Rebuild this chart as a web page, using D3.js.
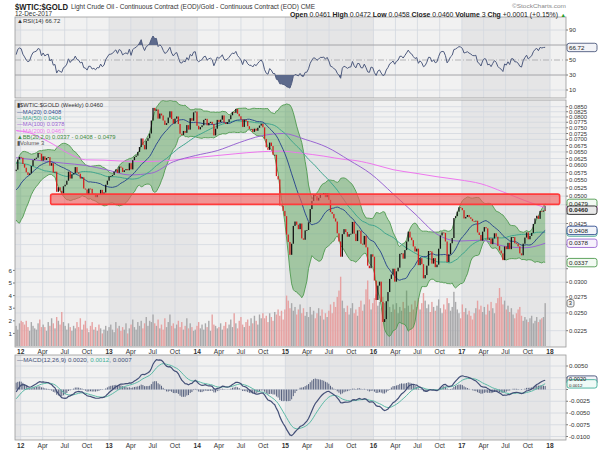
<!DOCTYPE html>
<html><head><meta charset="utf-8">
<script src="https://cdn.jsdelivr.net/npm/d3@7"></script>
<style>body{margin:0;background:#fff}svg{display:block}text{font-family:"Liberation Sans",Arial,sans-serif}</style>
</head><body><svg id="c" width="600" height="450"></svg>
<script>
// ---------------- DATA ----------------
const firstBar = "2011-12-13";           // first weekly bar shown
// weeks before the visible window, only used to seed MA20/MA50/BB/RSI/MACD
const warmupCloses = [.0643,.0672,.0663,.0666,.0660,.0629,.0621,.0694,.0731,.0712,.0713,.0738,.0755,.0765,.0738,.0747,.0732,.0652,.0668,.0659,.0655,.0650,.0649,.0604,.0608,.0640,.0624,.0610,.0624,.0588,.0524,.0490,.0444,.0477,.0461,.0470,.0485,.0482,.0488,.0507,.0516,.0532,.0534,.0537,.0554,.0565,.0574,.0578,.0580];
const closes = [
.0585,.0621,.0631,.0628,.0605,.0592,.0576,.0567,.0572,.0598,.0619,.0624,.0628,.0646,.0643,.0617,
.0633,.0620,.0627,.0630,.0599,.0608,.0575,.0578,.0513,.0527,.0516,.0508,.0530,
.0535,.0548,.0578,.0555,.0569,.0573,.0594,.0575,.0571,.0555,.0559,.0523,.0520,
.0505,.0523,.0522,.0504,.0507,.0497,.0506,.0504,.0519,.0505,.0511,.0535,.0548,
.0562,.0563,.0567,.0578,.0586,.0574,.0596,.0592,.0577,.0583,.0587,.0583,.0608,
.0586,.0619,.0631,.0636,.0650,.0669,.0704,.0677,.0660,.0694,.0705,.0725,.0783,
.0844,.0830,.0836,.0792,.0816,.0807,.0783,.0763,.0771,.0797,.0827,.0790,.0769,
.0792,.0802,.0767,.0724,.0719,.0736,.0728,.0762,.0742,.0794,.0782,.0822,.0826,
.0759,.0743,.0753,.0761,.0786,.0791,.0761,.0772,.0777,.0767,.0717,.0746,.0786,
.0776,.0787,.0807,.0774,.0767,.0776,.0789,.0808,.0824,.0820,.0839,.0815,.0803,
.0788,.0754,.0787,.0781,.0757,.0745,.0745,.0732,.0746,.0737,.0750,.0760,.0768,
.0752,.0702,.0668,.0658,.0687,.0673,.0639,.0639,.0563,.0552,.0473,.0472,.0458,
.0444,.0398,.0381,.0353,.0377,.0419,.0430,.0422,.0411,.0425,.0389,.0386,.0408,
.0409,.0428,.0463,.0486,.0504,.0500,.0487,.0495,.0507,.0506,.0509,.0497,.0508,
.0489,.0455,.0450,.0438,.0430,.0401,.0382,.0349,.0399,.0411,.0404,.0393,.0399,
.0400,.0429,.0400,.0383,.0408,.0407,.0377,.0375,.0395,.0369,.0331,.0326,.0354,
.0349,.0303,.0270,.0294,.0301,.0267,.0237,.0241,.0268,.0283,.0306,.0314,.0325,
.0301,.0320,.0327,.0355,.0356,.0345,.0363,.0382,.0405,.0391,.0385,.0371,.0360,
.0366,.0332,.0346,.0334,.0307,.0313,.0331,.0361,.0360,.0335,.0346,.0328,.0333,
.0366,.0396,.0403,.0402,.0382,.0338,.0354,.0378,.0390,.0439,.0444,.0456,.0468,
.0466,.0460,.0438,.0442,.0447,.0441,.0437,.0431,.0430,.0432,.0403,.0397,.0384,
.0405,.0416,.0413,.0386,.0389,.0376,.0389,.0401,.0393,.0372,.0362,.0356,.0342,
.0371,.0365,.0379,.0365,.0392,.0392,.0378,.0377,.0371,.0356,.0352,.0377,.0391,
.0403,.0387,.0395,.0402,.0424,.0438,.0445,.0437,.0458,.0456,.0459,.0460];
const volumes = [
1.6,1.3,1.8,2.0,1.9,1.7,2.0,1.5,1.2,1.9,1.6,1.4,1.3,1.8,2.1,1.5,
1.7,1.5,1.2,1.9,1.6,2.2,1.8,1.4,2.3,2.0,1.7,2.7,1.9,
1.6,1.3,1.8,1.5,1.2,1.6,1.4,1.9,1.5,2.2,1.3,1.7,2.0,
1.4,1.1,1.6,1.9,1.3,1.5,1.2,1.7,1.4,1.0,1.3,1.6,1.2,
1.5,1.7,1.3,1.1,1.9,1.4,1.6,1.2,1.5,1.3,1.8,1.0,1.4,
1.7,2.1,1.5,1.3,1.9,1.6,2.0,1.4,1.8,2.3,1.6,2.0,1.9,
2.5,1.8,1.6,2.1,1.4,1.7,1.3,2.2,1.5,1.9,2.5,1.6,1.8,
1.4,1.7,2.0,1.5,1.9,1.3,1.6,2.2,1.4,1.8,1.5,1.2,1.3,
1.6,1.9,1.4,1.7,1.3,1.8,1.5,2.0,1.2,2.5,1.7,1.6,1.4,
1.5,1.8,1.3,1.6,1.9,1.4,1.7,2.1,1.5,2.6,1.8,1.4,2.0,
2.3,1.7,1.5,1.9,2.1,1.6,2.2,1.8,2.4,2.0,1.7,2.5,2.2,
2.6,2.2,2.4,1.9,2.6,2.3,2.0,2.7,2.5,2.9,2.4,2.8,2.1,
2.9,4.0,3.6,3.0,3.4,2.8,3.1,2.5,2.9,3.3,2.6,3.0,2.4,
2.7,2.3,3.1,2.5,2.8,2.2,2.6,3.0,2.4,2.9,2.1,2.6,2.3,
2.8,3.3,2.6,3.5,3.1,3.9,4.4,5.5,3.6,3.0,2.7,3.2,2.5,
3.0,3.4,2.6,2.9,2.4,3.1,3.6,2.8,3.3,4.5,5.2,3.7,2.9,
3.4,3.8,4.1,3.2,3.5,3.0,3.9,3.4,2.8,3.6,3.1,2.7,3.3,
2.9,3.4,2.6,3.1,2.8,3.5,3.0,4.4,3.2,2.7,3.3,2.9,3.6,
3.1,3.8,2.9,3.4,4.2,3.6,3.0,3.3,2.7,3.5,3.1,2.8,3.2,
3.7,3.0,2.6,3.3,2.9,3.8,3.4,2.8,3.1,4.3,3.5,2.9,2.6,
2.2,3.3,2.7,3.0,2.5,2.8,2.4,2.1,2.6,3.0,3.6,2.9,3.2,
2.7,3.1,2.5,3.3,2.8,3.5,3.0,2.6,3.4,3.8,4.6,3.9,3.3,
3.6,2.9,3.2,2.7,3.0,2.5,2.2,2.6,2.9,3.1,2.4,2.0,2.3,
2.1,1.9,2.2,2.4,1.8,2.0,2.3,1.9,2.1,2.2,2.3,3.4];
const ma100Weeks = [0,15,28,41,54,67,80,93,106,119,132,145,158,171,184,197,210,223,236,249,262,275,288,301,313];
const ma100Vals  = [.0628,.0617,.0608,.0600,.0584,.0567,.0573,.0613,.0636,.0655,.0687,.0715,.0725,.0700,.0668,.0619,.0570,.0507,.0450,.0399,.0383,.0385,.0372,.0368,.0378];
const ma200Weeks = [0,8,16,22,28,35,41,52,65,78,91,104,117,130,143,156,169,182,195,199,210,223,236,249,262,275,288,301,313];
const ma200Vals  = [.0738,.0728,.0702,.0680,.0655,.0632,.0620,.0619,.0615,.0614,.0618,.0627,.0635,.0643,.0650,.0653,.0645,.0634,.0621,.0619,.0606,.0585,.0573,.0561,.0551,.0538,.0513,.0487,.0467];
const lastOpen = 0.0461, lastHigh = 0.0472, lastLow = 0.0458, lastClose = 0.0460;
const lastVolume = 3, lastChg = "+0.0001", lastPct = "+0.15%";
const legendMA = [["MA(20)",0.0408],["MA(50)",0.0404],["MA(100)",0.0378],["MA(200)",0.0467]];
const legendBB = [0.0337,0.0408,0.0479];
const legendRSI = 66.72;
const legendMACD = [0.0020,0.0012,0.0007];
const zoneDates = ["2012-05-04","2018-02-10"], zonePrices = [0.0476,0.0506];
const priceTicks = d3.range(0,26).map(k=>+(0.0225+k*0.0025).toFixed(4));
const rsiTicks = [10,30,50,70,90];
const macdTicks = [0.005,0.0025,0,-0.0025,-0.005,-0.0075,-0.01];
const volTicks = [1,2,3,4,5,6];
const yearLabels = ["12","13","14","15","16","17","18"];
const monthLabels = ["Apr","Jul","Oct"];

// ---------------- LAYOUT ----------------
const svg = d3.select("#c");
const L = 15, R = 566;
const P = {rsi:[17,98], main:[100,347], macd:[355,440]};
const x = d3.scaleTime().domain([new Date(2012,0,1), new Date(2018,0,1)]).range([20.7,550]);
const yP = d3.scaleLog().domain([0.0225,0.085]).range([330.7,106.7]);
const yR = d3.scaleLinear().domain([10,90]).range([90,30]);
const yM = d3.scaleLinear().domain([-0.01,0.005]).range([436.5,366]);
const yV = d3.scaleLinear().domain([0,6]).range([346,270.4]);
const parse = s=>{const [a,b,c]=s.split("-").map(Number);return new Date(a,b-1,c);};
const t0 = parse(firstBar);
const dates = closes.map((_,i)=>d3.timeDay.offset(t0,7*i));

// quarter ticks
const qTicks=[];
for(let yr=2012;yr<=2018;yr++){ qTicks.push({d:new Date(yr,0,1),t:yearLabels[yr-2012],b:true});
  if(yr<2018) monthLabels.forEach((m,k)=>qTicks.push({d:new Date(yr,3*(k+1),1),t:m,b:false})); }

// panels
const defs = svg.append("defs");
Object.entries(P).forEach(([k,[t,b]])=>{
  defs.append("clipPath").attr("id","clip-"+k).append("rect").attr("x",L).attr("y",t).attr("width",R-L).attr("height",b-t);
  const g = svg.append("g");
  g.append("rect").attr("x",L).attr("y",t).attr("width",R-L).attr("height",b-t).attr("fill","#f1f1f1");
  [2011,2013,2015,2017].forEach(yr=>{
    const a=Math.max(L,x(new Date(yr,0,1))), c=Math.min(R,x(new Date(yr+1,0,1)));
    if(c>a) g.append("rect").attr("x",a).attr("y",t).attr("width",c-a).attr("height",b-t).attr("fill","#e5e5e6");
  });
  qTicks.forEach(q=>{const xx=x(q.d); if(xx>L&&xx<R) g.append("line").attr("x1",xx).attr("x2",xx).attr("y1",t).attr("y2",b).attr("stroke","#d3d8e0").attr("stroke-width",0.8);});
});

// ---------------- INDICATORS ----------------
const all = warmupCloses.concat(closes), W = warmupCloses.length;
const win = (n,i)=>all.slice(i+W-n+1,i+W+1);
const ma20 = closes.map((_,i)=>d3.mean(win(20,i)));
const ma50 = closes.map((_,i)=>d3.mean(win(50,i)));
const bb = closes.map((_,i)=>{const s=win(20,i),m=d3.mean(s),sd=Math.sqrt(d3.mean(s,v=>(v-m)*(v-m)));return [m-2*sd,m+2*sd];});
const rsiAll=[]; {let ag=0,al=0;
  for(let j=1;j<all.length;j++){const ch=all[j]-all[j-1],g=Math.max(ch,0),l=Math.max(-ch,0);
    if(j<=14){ag+=g/14;al+=l/14;} else {ag=(ag*13+g)/14;al=(al*13+l)/14;}
    rsiAll[j]=100-100/(1+ag/Math.max(al,1e-9));}}
const rsi = closes.map((_,i)=>rsiAll[i+W]);
const ema=(arr,n)=>{const k=2/(n+1);let e=arr[0];return arr.map((v,i)=>i===0?e:(e=v*k+e*(1-k)));};
const e12=ema(all,12), e26=ema(all,26);
const macdAll=all.map((_,i)=>e12[i]-e26[i]); const sigAll=ema(macdAll,9);
const macd=closes.map((_,i)=>macdAll[i+W]), sig=closes.map((_,i)=>sigAll[i+W]);

// value-box positions (labels under them are hidden)
const mainBoxYs=[legendBB[2],lastClose,legendMA[0][1],legendMA[2][1],legendBB[0]].map(v=>yP(v));
const macdBoxYs=[yM(legendMACD[0]),yM(legendMACD[1])];
const free=(y,ys,gap)=>ys.every(b=>Math.abs(b-y)>=gap);

// ---------------- RSI PANEL ----------------
{
  const g=svg.append("g").attr("clip-path","url(#clip-rsi)");
  [10,90].forEach(v=>g.append("line").attr("x1",L).attr("x2",R).attr("y1",yR(v)).attr("y2",yR(v)).attr("stroke","#d3d8e0").attr("stroke-width",0.8));
  [30,70].forEach(v=>g.append("line").attr("x1",L).attr("x2",R).attr("y1",yR(v)).attr("y2",yR(v)).attr("stroke","#a4a4a8").attr("stroke-width",1));
  g.append("line").attr("x1",L).attr("x2",R).attr("y1",yR(50)).attr("y2",yR(50)).attr("stroke","#a4a4a8").attr("stroke-width",0.8).attr("stroke-dasharray","6,2,1,2");
  defs.append("clipPath").attr("id","rsiHi").append("rect").attr("x",L).attr("y",0).attr("width",R-L).attr("height",yR(70));
  defs.append("clipPath").attr("id","rsiLo").append("rect").attr("x",L).attr("y",yR(30)).attr("width",R-L).attr("height",100);
  const aH=d3.area().x((d,i)=>x(dates[i])).y0(yR(70)).y1(d=>yR(d));
  const aL=d3.area().x((d,i)=>x(dates[i])).y0(yR(30)).y1(d=>yR(d));
  g.append("g").attr("clip-path","url(#rsiHi)").append("path").attr("d",aH(rsi)).attr("fill","#5d6a8c");
  g.append("g").attr("clip-path","url(#rsiLo)").append("path").attr("d",aL(rsi)).attr("fill","#5d6a8c");
  g.append("path").attr("d",d3.line().x((d,i)=>x(dates[i])).y(d=>yR(d))(rsi)).attr("fill","none").attr("stroke","#4d5a7e").attr("stroke-width",1);
  svg.append("text").attr("x",17).attr("y",22.8).attr("font-size",6).attr("fill","#333").text("\u25B2RSI(14) "+legendRSI.toFixed(2));
  rsiTicks.forEach(v=>{svg.append("line").attr("x1",R).attr("x2",R+2).attr("y1",yR(v)).attr("y2",yR(v)).attr("stroke","#777");
    if(free(yR(v),[yR(legendRSI)],6)) svg.append("text").attr("x",569).attr("y",yR(v)).attr("dy","0.35em").attr("font-size",6.2).attr("fill","#333").text(v);});
}

// ---------------- MAIN PANEL ----------------
{
  const g=svg.append("g").attr("clip-path","url(#clip-main)");
  priceTicks.forEach(v=>g.append("line").attr("x1",L).attr("x2",R).attr("y1",yP(v)).attr("y2",yP(v)).attr("stroke","#d3d8e0").attr("stroke-width",0.8));
  // volume
  closes.forEach((c,i)=>{const prev=i?closes[i-1]:warmupCloses[W-1]; const xx=x(dates[i]);
    g.append("rect").attr("x",xx-0.7).attr("width",1.4).attr("y",yV(volumes[i])).attr("height",yV(0)-yV(volumes[i]))
     .attr("fill",c<prev?"#e6a2a2":"#a9a9ab");});
  // BB
  const bx=(d,i)=>x(dates[i]);
  g.append("path").attr("d",d3.area().x(bx).y0(d=>yP(d[0])).y1(d=>yP(d[1]))(bb)).attr("fill","rgba(70,155,70,0.42)");
  g.append("path").attr("d",d3.line().x(bx).y(d=>yP(d[1]))(bb)).attr("fill","none").attr("stroke","#4f9a4f").attr("stroke-width",0.9);
  g.append("path").attr("d",d3.line().x(bx).y(d=>yP(d[0]))(bb)).attr("fill","none").attr("stroke","#4f9a4f").attr("stroke-width",0.9);
  // MAs
  const spLine=(wk,vals,col)=>g.append("path").attr("d",d3.line().curve(d3.curveMonotoneX).x((d,k)=>x(dates[wk[k]])).y(d=>yP(d))(vals)).attr("fill","none").attr("stroke",col).attr("stroke-width",1);
  spLine(ma200Weeks,ma200Vals,"#ee77ee");
  spLine(ma100Weeks,ma100Vals,"#9a66d2");
  g.append("path").attr("d",d3.line().x(bx).y(d=>yP(d))(ma50)).attr("fill","none").attr("stroke","#3fa58e").attr("stroke-width",1);
  g.append("path").attr("d",d3.line().x(bx).y(d=>yP(d))(ma20)).attr("fill","none").attr("stroke","#2f4c8e").attr("stroke-width",1);
  // candles
  closes.forEach((c,i)=>{const o = i===closes.length-1?lastOpen:(i?closes[i-1]:warmupCloses[W-1]);
    const xx=x(dates[i]); const y1=yP(Math.max(o,c)), y2=yP(Math.min(o,c));
    if(i===closes.length-1) g.append("line").attr("x1",xx).attr("x2",xx).attr("y1",yP(lastHigh)).attr("y2",yP(lastLow)).attr("stroke","#111").attr("stroke-width",0.7);
    g.append("rect").attr("x",xx-0.65).attr("width",1.3).attr("y",y1).attr("height",Math.max(0.8,y2-y1))
     .attr("fill",c<o?"#d41f1f":"#151515");});
  // resistance zone
  const zx1=x(parse(zoneDates[0])), zx2=x(parse(zoneDates[1]));
  svg.append("rect").attr("x",zx1).attr("y",yP(zonePrices[1])).attr("width",zx2-zx1).attr("height",yP(zonePrices[0])-yP(zonePrices[1]))
    .attr("rx",2).attr("fill","rgba(240,90,90,0.62)").attr("stroke","#ff3b3b").attr("stroke-width",1.6);
  // legend
  const lg=[["\u25AE$WTIC:$GOLD (Weekly) "+lastClose.toFixed(4),"#333"],
    ["\u2014MA(20) "+legendMA[0][1].toFixed(4),"#2f4c8e"],["\u2014MA(50) "+legendMA[1][1].toFixed(4),"#3fa58e"],
    ["\u2014MA(100) "+legendMA[2][1].toFixed(4),"#9a66d2"],["\u2014MA(200) "+legendMA[3][1].toFixed(4),"#ee77ee"],
    ["\u25B2BB(20,2.0) "+legendBB.map(v=>v.toFixed(4)).join(" - "),"#3c8a3c"],["\u25AEVolume "+lastVolume,"#555"]];
  lg.forEach((d,k)=>svg.append("text").attr("x",17).attr("y",107.3+k*6.35).attr("font-size",5.8).attr("fill",d[1]).text(d[0]));
  // axis
  priceTicks.forEach(v=>{svg.append("line").attr("x1",R).attr("x2",R+2).attr("y1",yP(v)).attr("y2",yP(v)).attr("stroke","#777");
    if(free(yP(v),mainBoxYs,6.5)) svg.append("text").attr("x",569).attr("y",yP(v)).attr("dy","0.35em").attr("font-size",5.9).attr("fill","#333").text(v.toFixed(4));});
  volTicks.forEach(v=>{svg.append("line").attr("x1",L-2).attr("x2",L).attr("y1",yV(v)).attr("y2",yV(v)).attr("stroke","#777");
    svg.append("text").attr("x",12).attr("y",yV(v)).attr("dy","0.35em").attr("text-anchor","end").attr("font-size",6.2).attr("fill","#333").text(v);});
}

// ---------------- MACD PANEL ----------------
{
  const g=svg.append("g").attr("clip-path","url(#clip-macd)");
  macdTicks.forEach(v=>g.append("line").attr("x1",L).attr("x2",R).attr("y1",yM(v)).attr("y2",yM(v)).attr("stroke","#d3d8e0").attr("stroke-width",0.8));
  macd.forEach((m,i)=>{const h=m-sig[i]; const xx=x(dates[i]);
    g.append("rect").attr("x",xx-0.5).attr("width",1).attr("y",Math.min(yM(0),yM(h))).attr("height",Math.abs(yM(h)-yM(0))).attr("fill","#58627f");});
  g.append("path").attr("d",d3.line().x((d,i)=>x(dates[i])).y(d=>yM(d))(sig)).attr("fill","none").attr("stroke","#5cbaa6").attr("stroke-width",1);
  g.append("path").attr("d",d3.line().x((d,i)=>x(dates[i])).y(d=>yM(d))(macd)).attr("fill","none").attr("stroke","#434f77").attr("stroke-width",1.2);
  const t=svg.append("text").attr("x",17).attr("y",361.5).attr("font-size",6.2);
  t.append("tspan").attr("fill","#434f77").text("\u2014MACD(12,26,9) "+legendMACD[0].toFixed(4)+", ");
  t.append("tspan").attr("fill","#3fae98").text(legendMACD[1].toFixed(4));
  t.append("tspan").attr("fill","#434f77").text(", "+legendMACD[2].toFixed(4));
  macdTicks.forEach(v=>{svg.append("line").attr("x1",R).attr("x2",R+2).attr("y1",yM(v)).attr("y2",yM(v)).attr("stroke","#777");
    if(free(yM(v),macdBoxYs,6.5)) svg.append("text").attr("x",569).attr("y",yM(v)).attr("dy","0.35em").attr("font-size",6.2).attr("fill","#333").text(v.toFixed(4));});
}

// panel borders
Object.values(P).forEach(([t,b])=>svg.append("rect").attr("x",L).attr("y",t).attr("width",R-L).attr("height",b-t).attr("fill","none").attr("stroke","#9a9a9a").attr("stroke-width",0.8));

// x labels
[353.6,447.6].forEach(yy=>qTicks.forEach(q=>svg.append("text").attr("x",x(q.d)).attr("y",yy).attr("text-anchor","middle")
  .attr("font-size",6.6).attr("font-weight",q.b?"bold":"normal").attr("fill","#333").text(q.t)));

// value boxes
function box(y,txt,stroke,fill,bold){
  svg.append("rect").attr("x",567).attr("y",y-4.2).attr("width",30).attr("height",8.4).attr("rx",2.2).attr("fill",fill).attr("stroke",stroke).attr("stroke-width",0.9);
  if(txt) svg.append("text").attr("x",569).attr("y",y).attr("dy","0.35em").attr("font-size",6.2).attr("font-weight",bold?"bold":"normal").attr("fill","#222").text(txt);
}
box(yP(legendMA[3][1]),null,"#ee77ee","#fdf3fd");   // MA(200) box, covered by the close box
box(yP(legendMA[1][1]),null,"#3fa58e","#f2faf7");   // MA(50) box, covered by the MA(20) box
box(yP(legendBB[2]),legendBB[2].toFixed(4),"#4f9a4f","#f3faf3");
box(yP(legendMA[0][1]),legendMA[0][1].toFixed(4),"#2f4c8e","#f2f4fa");
box(yP(legendMA[2][1]),legendMA[2][1].toFixed(4),"#9a66d2","#f7f2fc");
box(yP(legendBB[0]),legendBB[0].toFixed(4),"#4f9a4f","#f3faf3");
box(yP(lastClose),lastClose.toFixed(4),"#222","#e8e8e8",true);
box(yR(legendRSI),legendRSI.toFixed(2),"#4d5a7e","#f2f3f7");
box(yM(legendMACD[0]),null,"#434f77","#f2f3f7");
box(yM(legendMACD[1]),null,"#3fae98","#f0faf7");
svg.append("text").attr("x",569).attr("y",yM(legendMACD[0])-0.6).attr("dy","0.35em").attr("font-size",5.6).attr("fill","#222").text(legendMACD[0].toFixed(4));
svg.append("text").attr("x",569).attr("y",yM(legendMACD[1])+1.6).attr("dy","0.35em").attr("font-size",4.4).attr("fill","#222").text(legendMACD[1].toFixed(4));
svg.append("rect").attr("x",567).attr("y",yV(3.4)-3.6).attr("width",7).attr("height",7.4).attr("rx",2).attr("fill","#f4f4f4").attr("stroke","#666").attr("stroke-width",0.8);
svg.append("text").attr("x",568.7).attr("y",yV(3.4)+0.2).attr("dy","0.35em").attr("font-size",5.6).attr("fill","#222").text(lastVolume);

// header
svg.append("text").attr("x",15).attr("y",9.6).attr("font-size",9.6).attr("font-weight","bold").attr("fill","#222").attr("textLength",53).attr("lengthAdjust","spacingAndGlyphs").text("$WTIC:$GOLD");
svg.append("text").attr("x",71).attr("y",8.6).attr("font-size",6.8).attr("fill","#333").attr("textLength",244).attr("lengthAdjust","spacingAndGlyphs").text("Light Crude Oil - Continuous Contract (EOD)/Gold - Continuous Contract (EOD) CME");
svg.append("text").attr("x",15).attr("y",16.4).attr("font-size",6.6).attr("fill","#333").attr("textLength",37).attr("lengthAdjust","spacingAndGlyphs").text("12-Dec-2017");
svg.append("text").attr("x",512).attr("y",7.6).attr("font-size",6.2).attr("fill","#888").attr("textLength",54).attr("lengthAdjust","spacingAndGlyphs").text("\u00A9StockCharts.com");
{
  const t=svg.append("text").attr("x",290).attr("y",17).attr("font-size",6.6).attr("fill","#222").attr("textLength",268).attr("lengthAdjust","spacingAndGlyphs");
  [["Open ",1],[lastOpen.toFixed(4)+" ",0],["High ",1],[lastHigh.toFixed(4)+" ",0],["Low ",1],[lastLow.toFixed(4)+" ",0],
   ["Close ",1],[lastClose.toFixed(4)+" ",0],["Volume ",1],[lastVolume+" ",0],["Chg ",1],[lastChg+" ("+lastPct+")",0]]
   .forEach(([s,b])=>t.append("tspan").attr("font-weight",b?"bold":"normal").text(s));
  svg.append("text").attr("x",560.5).attr("y",16.6).attr("font-size",5.5).attr("fill","#2a9d2a").text("\u25B2");
}
</script></body></html>
